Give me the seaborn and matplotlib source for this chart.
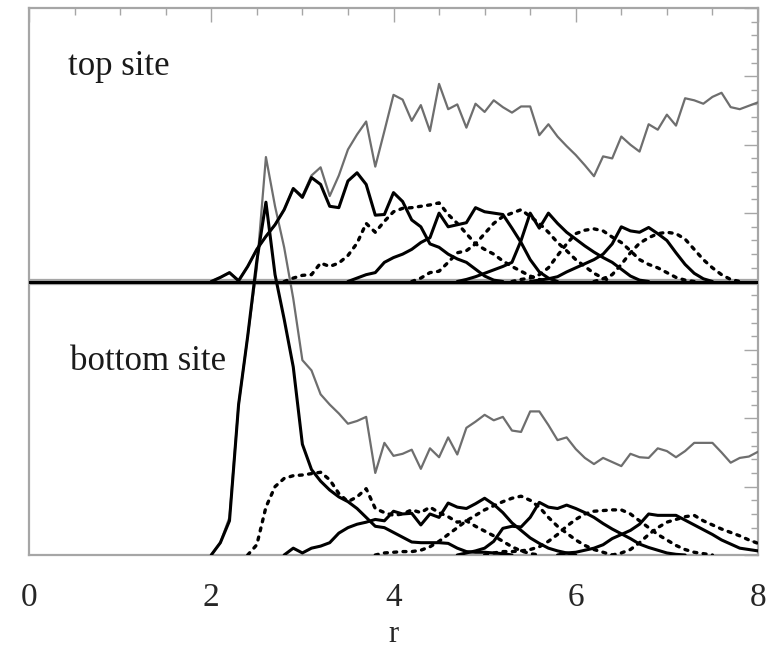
import numpy as np
import pandas as pd
import seaborn as sns
import matplotlib.pyplot as plt
from matplotlib.ticker import MultipleLocator

sns.set_theme(style="white")
plt.rcParams['font.family'] = ['Liberation Serif', 'DejaVu Serif']

# ---- top site (values measured from the site's own baseline) ----
top_total_start = 2.0
top_total = [0, 0.06, 0.13, 0.02, 0.22, 0.47, 0.66, 0.83, 1.05, 1.36,
             1.25, 1.55, 1.67, 1.25, 1.55, 1.93, 2.15, 2.34, 1.68, 2.2,
             2.73, 2.66, 2.35, 2.58, 2.2, 2.89, 2.52, 2.59, 2.25, 2.6,
             2.48, 2.65, 2.55, 2.47, 2.56, 2.56, 2.14, 2.3, 2.12, 1.98,
             1.85, 1.7, 1.54, 1.83, 1.8, 2.12, 2.0, 1.9, 2.3, 2.22,
             2.44, 2.28, 2.68, 2.65, 2.6, 2.7, 2.76, 2.55, 2.52, 2.57, 2.62]

top_shells = [
    # (start r, values, dotted)
    (2.0, [0, 0.06, 0.13, 0.01, 0.22, 0.47, 0.66, 0.83, 1.05, 1.36,
           1.23, 1.52, 1.42, 1.10, 1.08, 1.47, 1.59, 1.42, 0.97, 0.98,
           1.30, 1.17, 0.90, 0.80, 0.55, 0.50, 0.40, 0.33, 0.28, 0.18,
           0.08, 0.02, 0.0], False),
    (2.8, [0, 0.05, 0.09, 0.10, 0.27, 0.22, 0.27, 0.38, 0.56, 0.85,
           0.72, 0.88, 1.02, 1.07, 1.08, 1.10, 1.12, 1.15, 0.98, 0.85,
           0.70, 0.55, 0.47, 0.40, 0.30, 0.22, 0.15, 0.08, 0.03, 0.0], True),
    (3.5, [0, 0.05, 0.10, 0.13, 0.28, 0.35, 0.40, 0.47, 0.57, 0.64,
           1.00, 0.80, 0.83, 0.86, 1.08, 1.02, 1.00, 0.98, 0.78, 0.57,
           0.32, 0.14, 0.05, 0.0], False),
    (4.2, [0, 0.05, 0.13, 0.15, 0.28, 0.42, 0.45, 0.55, 0.70, 0.85,
           0.95, 1.00, 1.05, 0.95, 0.85, 0.72, 0.57, 0.45, 0.32, 0.22,
           0.12, 0.05, 0.0], True),
    (4.7, [0, 0.03, 0.07, 0.12, 0.17, 0.22, 0.28, 0.60, 1.00, 0.78,
           1.00, 0.85, 0.72, 0.62, 0.52, 0.43, 0.35, 0.28, 0.18, 0.08,
           0.02, 0.0], False),
    (5.3, [0, 0.03, 0.05, 0.10, 0.20, 0.38, 0.55, 0.70, 0.75, 0.77,
           0.74, 0.65, 0.57, 0.45, 0.32, 0.25, 0.20, 0.13, 0.06, 0.02, 0.0], True),
    (5.5, [0, 0.02, 0.04, 0.07, 0.14, 0.20, 0.26, 0.32, 0.40, 0.55,
           0.80, 0.74, 0.72, 0.79, 0.70, 0.60, 0.42, 0.25, 0.12, 0.04, 0.0], False),
    (6.2, [0, 0.04, 0.10, 0.25, 0.42, 0.56, 0.64, 0.70, 0.72, 0.70,
           0.62, 0.47, 0.32, 0.20, 0.10, 0.03, 0.0], True),
]

# ---- bottom site ----
bottom_total_start = 2.0
bottom_total = [0, 0.18, 0.55, 2.2, 3.2, 4.2, 5.82, 5.1, 4.5, 3.75,
                2.85, 2.7, 2.35, 2.2, 2.07, 1.92, 1.96, 2.02, 1.2, 1.64,
                1.45, 1.48, 1.54, 1.26, 1.56, 1.43, 1.72, 1.47, 1.86, 1.95,
                2.05, 1.97, 2.02, 1.82, 1.8, 2.1, 2.1, 1.9, 1.68, 1.72,
                1.55, 1.42, 1.33, 1.42, 1.36, 1.3, 1.48, 1.43, 1.42, 1.56,
                1.52, 1.43, 1.52, 1.64, 1.64, 1.64, 1.5, 1.35, 1.42, 1.44, 1.51]

bottom_shells = [
    (2.0, [0, 0.18, 0.5, 2.2, 3.2, 4.3, 5.16, 4.1, 3.45, 2.75,
           1.62, 1.25, 1.08, 0.95, 0.85, 0.78, 0.68, 0.55, 0.42, 0.40,
           0.33, 0.26, 0.19, 0.18, 0.18, 0.18, 0.17, 0.10, 0.05, 0.04,
           0.04, 0.03, 0.02, 0.0], False),
    (2.4, [0, 0.15, 0.70, 1.00, 1.12, 1.16, 1.17, 1.19, 1.21, 1.10,
           0.90, 0.78, 0.85, 0.97, 0.68, 0.62, 0.58, 0.60, 0.66, 0.62,
           0.70, 0.62, 0.56, 0.48, 0.50, 0.42, 0.35, 0.28, 0.20, 0.12,
           0.06, 0.02, 0.0], True),
    (2.8, [0, 0.10, 0.03, 0.10, 0.13, 0.18, 0.32, 0.40, 0.45, 0.48,
           0.52, 0.50, 0.64, 0.60, 0.61, 0.44, 0.60, 0.55, 0.76, 0.70,
           0.68, 0.75, 0.83, 0.74, 0.62, 0.47, 0.36, 0.25, 0.17, 0.10,
           0.06, 0.03, 0.0], False),
    (3.8, [0, 0.03, 0.04, 0.05, 0.05, 0.07, 0.12, 0.20, 0.30, 0.40,
           0.50, 0.58, 0.66, 0.72, 0.78, 0.83, 0.86, 0.80, 0.70, 0.55,
           0.42, 0.32, 0.22, 0.14, 0.08, 0.04, 0.0], True),
    (4.7, [0, 0.03, 0.06, 0.10, 0.20, 0.39, 0.42, 0.41, 0.55, 0.77,
           0.70, 0.68, 0.73, 0.68, 0.62, 0.55, 0.46, 0.38, 0.31, 0.24,
           0.16, 0.11, 0.07, 0.03, 0.01, 0.0], False),
    (5.0, [0, 0.03, 0.05, 0.05, 0.06, 0.08, 0.12, 0.20, 0.30, 0.42,
           0.52, 0.60, 0.64, 0.65, 0.66, 0.66, 0.60, 0.50, 0.40, 0.30,
           0.22, 0.14, 0.08, 0.04, 0.02, 0.0], True),
    (5.8, [0, 0.03, 0.04, 0.07, 0.10, 0.15, 0.24, 0.30, 0.36, 0.45,
           0.60, 0.58, 0.58, 0.58, 0.51, 0.44, 0.37, 0.30, 0.22, 0.16,
           0.10, 0.08, 0.06], False),
    (6.4, [0, 0.03, 0.08, 0.18, 0.30, 0.40, 0.48, 0.52, 0.56, 0.58,
           0.50, 0.44, 0.38, 0.33, 0.28, 0.22, 0.17], True),
]

x_ticks = [0, 2, 4, 6, 8]
panel_labels = ["top site", "bottom site"]

# vertical placement of the two sites on the shared axis
top_offset = 4.0
r_step = 0.1

GRAY = "#6e6e6e"
FRAME = "#a6a6a6"


def series(start, values):
    r = np.round(start + r_step * np.arange(len(values)), 2)
    return pd.DataFrame({"r": r, "g": np.asarray(values, dtype=float)})


fig = plt.figure(figsize=(7.82, 6.48), dpi=100)
ax = fig.add_axes([29 / 782, 1 - 555 / 648, (758 - 29) / 782, (555 - 8) / 648])


def draw(df, offset, kind):
    y = df["g"] + offset
    if kind == "total":
        sns.lineplot(x=df["r"], y=y, ax=ax, color=GRAY, linewidth=1.6,
                     estimator=None, zorder=3)
    elif kind == "dotted":
        sns.lineplot(x=df["r"], y=y, ax=ax, color="black", linewidth=2.4,
                     linestyle=(0, (0.9, 1.9)), dash_capstyle="round",
                     estimator=None, zorder=4)
    else:
        sns.lineplot(x=df["r"], y=y, ax=ax, color="black", linewidth=2.2,
                     estimator=None, zorder=5)


# top site
draw(series(top_total_start, top_total), top_offset, "total")
for start, vals, dotted in top_shells:
    draw(series(start, vals), top_offset, "dotted" if dotted else "solid")

# bottom site
draw(series(bottom_total_start, bottom_total), 0.0, "total")
for start, vals, dotted in bottom_shells:
    draw(series(start, vals), 0.0, "dotted" if dotted else "solid")

# baseline separating the two sites
ax.axhline(top_offset, color=FRAME, linewidth=4.5, zorder=2)
ax.axhline(top_offset, color="black", linewidth=2.2, zorder=6)

ax.set_xlim(0, 8)
ax.set_ylim(0, 8)
ax.set_xticks(x_ticks)
ax.set_xticklabels([str(t) for t in x_ticks])
ax.xaxis.set_minor_locator(MultipleLocator(0.5))
ax.yaxis.set_major_locator(MultipleLocator(1))
ax.yaxis.set_minor_locator(MultipleLocator(0.2))
ax.tick_params(which="both", direction="in", top=True, right=True,
               color=FRAME, width=1.0, labelleft=False)
ax.tick_params(which="major", length=10, labelsize=24, pad=20)
ax.tick_params(which="minor", length=5)
ax.set_ylabel("")
ax.set_xlabel("r", fontsize=22, labelpad=5)

for sp in ax.spines.values():
    sp.set_color(FRAME)
    sp.set_linewidth(1.6)

ax.text(0.43, 7.02, panel_labels[0], fontsize=25, ha="left",
        va="baseline", color="#1a1a1a")
ax.text(0.45, 2.70, panel_labels[1], fontsize=25, ha="left",
        va="baseline", color="#1a1a1a")

fig.savefig("out.png", dpi=100)
